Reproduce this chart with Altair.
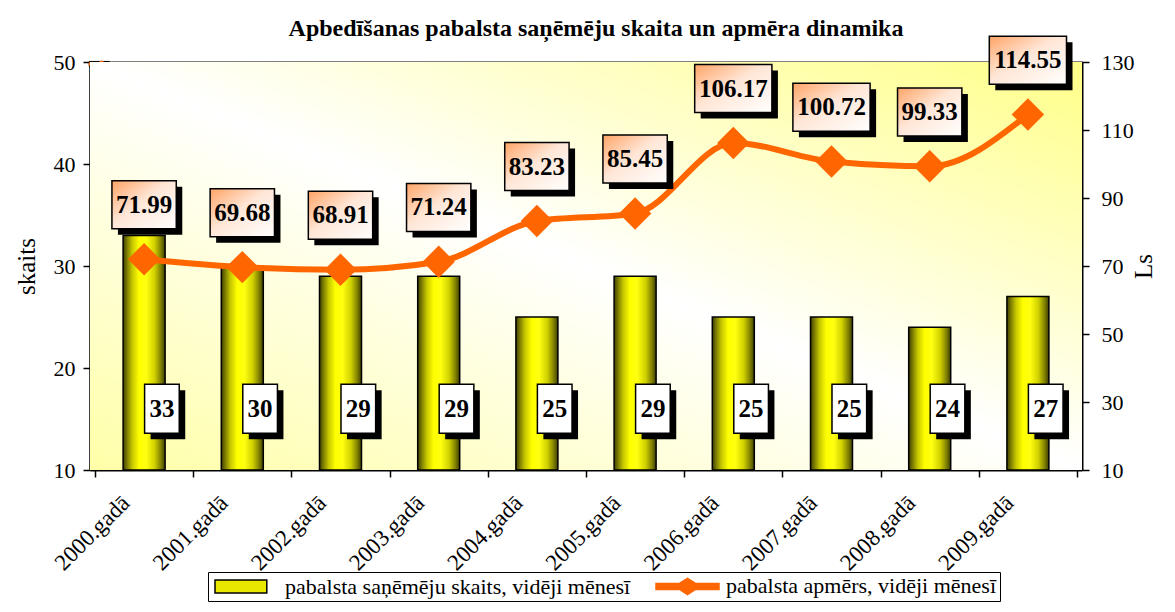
import altair as alt
import pandas as pd

# ---- data ----
years = ["2000.gadā", "2001.gadā", "2002.gadā", "2003.gadā", "2004.gadā",
         "2005.gadā", "2006.gadā", "2007.gadā", "2008.gadā", "2009.gadā"]
counts = [33, 30, 29, 29, 25, 29, 25, 25, 24, 27]
amounts = [71.99, 69.68, 68.91, 71.24, 83.23, 85.45, 106.17, 100.72, 99.33, 114.55]
series = ["pabalsta  saņēmēju skaits, vidēji mēnesī", "pabalsta apmērs, vidēji mēnesī"]
title_text = "Apbedīšanas pabalsta saņēmēju skaita un apmēra dinamika"

# ---- layout ----
W, H = 992, 408
LDOM = [10, 50]
RDOM = [10, 130]
XDOM = [-0.5, len(years) - 0.5]
PXX = W / (XDOM[1] - XDOM[0])
PYL = H / (LDOM[1] - LDOM[0])
PYR = H / (RDOM[1] - RDOM[0])
FONT = "Liberation Serif, Times New Roman, Times, DejaVu Serif, serif"
ORANGE = "#FF6600"

n = len(years)
df = pd.DataFrame({"idx": list(range(n)), "year": years, "count": counts, "amount": amounts})
df["base"] = LDOM[0]
# bar labels (white boxes)
df["blab"] = df["count"].astype(str)
df["bx"] = df["idx"] + 18 / PXX
df["bx1"] = df["bx"] - 17.5 / PXX
df["bx2"] = df["bx"] + 17.5 / PXX
df["by"] = 16.0
df["by1"] = df["by"] - 24.5 / PYL
df["by2"] = df["by"] + 24.5 / PYL
# line labels (orange-white boxes)
df["llab"] = [f"{v:.2f}" for v in amounts]
df["lw"] = df["llab"].str.len() * 13.0
df["lx"] = df["idx"].astype(float)
df["lx1"] = df["lx"] - df["lw"] / 2 / PXX
df["lx2"] = df["lx"] + df["lw"] / 2 / PXX
df["ly"] = df["amount"] + 16
df["ly1"] = df["ly"] - 24 / PYR
df["ly2"] = df["ly"] + 24 / PYR

label_arr = "[" + ",".join("'" + y + "'" for y in years) + "]"
x_axis = alt.Axis(
    values=[i - 0.5 for i in range(n + 1)],
    labelExpr=f"datum.value < 0 ? '' : {label_arr}[floor(datum.value)]",
    labelAngle=-45, labelAlign="right", labelBaseline="middle",
    labelOffset=-PXX / 2 - 18, labelPadding=22,
    labelFont=FONT, labelFontSize=23, labelColor="black",
    domainColor="black", domainWidth=2, tickColor="black", tickWidth=1.5, tickSize=7,
    grid=False, title=None,
)
xs = alt.Scale(domain=XDOM, nice=False, zero=False)


def X(field):
    return alt.X(f"{field}:Q", scale=xs, axis=x_axis)


ls = alt.Scale(domain=LDOM, nice=False, zero=False)
rs = alt.Scale(domain=RDOM, nice=False, zero=False)

left_axis = alt.Axis(
    orient="left", values=[10, 20, 30, 40, 50], title="skaits",
    labelFont=FONT, labelFontSize=22, labelColor="black", labelPadding=8,
    titleFont=FONT, titleFontSize=25, titleFontWeight="normal", titleColor="black", titlePadding=14,
    domainColor="black", domainWidth=2, tickColor="black", tickWidth=1.5, tickSize=7, grid=False,
)
right_axis = alt.Axis(
    orient="right", values=[10, 30, 50, 70, 90, 110, 130], title="Ls", titleAngle=270,
    labelFont=FONT, labelFontSize=22, labelColor="black", labelPadding=12,
    titleFont=FONT, titleFontSize=25, titleFontWeight="normal", titleColor="black", titlePadding=22,
    domainColor="black", domainWidth=2, tickColor="black", tickWidth=1.5, tickSize=7, grid=False,
)


def YL(field):
    return alt.Y(f"{field}:Q", scale=ls, axis=left_axis)


def YR(field):
    return alt.Y(f"{field}:Q", scale=rs, axis=right_axis)


base = alt.Chart(df)

# legend helper (hidden under the background)
leg_df = pd.DataFrame({"s": series})
legend_layer = alt.Chart(leg_df).mark_point(filled=True, opacity=1, strokeWidth=1).encode(
    x=alt.value(2), y=alt.value(2),
    fill=alt.Fill("s:N", scale=alt.Scale(domain=series, range=["#E8E800", ORANGE]),
                  legend=alt.Legend(title=None)),
    stroke=alt.Stroke("s:N", scale=alt.Scale(domain=series, range=["#000000", ORANGE]),
                      legend=alt.Legend(title=None)),
    shape=alt.Shape("s:N", scale=alt.Scale(domain=series, range=[
        "M-1,-0.93H6.4V0.93H-1Z",
        "M-1,-0.43H2.35L3.5,-1.15L4.65,-0.43H8V0.43H4.65L3.5,1.15L2.35,0.43H-1Z",
    ]), legend=alt.Legend(title=None)),
)

bg = alt.Chart(leg_df.head(1)).mark_rect(
    color=alt.Gradient(
        gradient="linear", x1=1, y1=0, x2=0, y2=1,
        stops=[alt.GradientStop(color="#FFFF88", offset=0),
               alt.GradientStop(color="#FFFFFF", offset=0.5),
               alt.GradientStop(color="#FFFFA8", offset=1)],
    )
).encode(x=alt.value(0), x2=alt.value(W), y=alt.value(0), y2=alt.value(H))

bars = base.mark_bar(
    size=42, stroke="black", strokeWidth=1.5,
    color=alt.Gradient(
        gradient="linear", x1=0, y1=0, x2=1, y2=0,
        stops=[alt.GradientStop(color="#3d3d00", offset=0),
               alt.GradientStop(color="#808000", offset=0.1),
               alt.GradientStop(color="#C8C800", offset=0.22),
               alt.GradientStop(color="#FFFF00", offset=0.38),
               alt.GradientStop(color="#FFFF10", offset=0.55),
               alt.GradientStop(color="#D0D000", offset=0.75),
               alt.GradientStop(color="#808000", offset=0.9),
               alt.GradientStop(color="#3d3d00", offset=1)],
    ),
).encode(x=X("idx"), y=YL("count"), y2="base:Q")

bshadow = base.mark_rect(color="black", xOffset=6, x2Offset=6, yOffset=6, y2Offset=6).encode(
    x=X("bx1"), x2="bx2:Q", y=YL("by1"), y2="by2:Q")
bbox = base.mark_rect(fill="white", stroke="black", strokeWidth=1.5).encode(
    x=X("bx1"), x2="bx2:Q", y=YL("by1"), y2="by2:Q")
btext = base.mark_text(font=FONT, fontSize=25, fontWeight="bold", color="black", baseline="middle").encode(
    x=X("bx"), y=YL("by"), text="blab:N")

layer_a = alt.layer(legend_layer, bg, bars, bshadow, bbox, btext)

line = base.mark_line(color=ORANGE, strokeWidth=6, interpolate="monotone").encode(
    x=X("idx"), y=YR("amount"))
pts = base.mark_point(shape="diamond", filled=True, size=1050, color=ORANGE, opacity=1).encode(
    x=X("idx"), y=YR("amount"))
lshadow = base.mark_rect(color="black", xOffset=6, x2Offset=6, yOffset=6, y2Offset=6).encode(
    x=X("lx1"), x2="lx2:Q", y=YR("ly1"), y2="ly2:Q")
lbox = base.mark_rect(
    stroke="black", strokeWidth=1.5,
    fill=alt.Gradient(
        gradient="linear", x1=0, y1=0, x2=1, y2=1,
        stops=[alt.GradientStop(color="#FFA466", offset=0),
               alt.GradientStop(color="#FFE6D6", offset=0.45),
               alt.GradientStop(color="#FFFFFF", offset=1)],
    ),
).encode(x=X("lx1"), x2="lx2:Q", y=YR("ly1"), y2="ly2:Q")
ltext = base.mark_text(font=FONT, fontSize=25, fontWeight="bold", color="black", baseline="middle").encode(
    x=X("lx"), y=YR("ly"), text="llab:N")

layer_b = alt.layer(line, pts, lshadow, lbox, ltext)

chart = alt.layer(layer_a, layer_b).resolve_scale(y="independent").properties(
    width=W, height=H,
    autosize=alt.AutoSizeParams(type="none"),
    padding={"left": 82, "top": 54, "right": 85, "bottom": 134},
    title=alt.TitleParams(title_text, font=FONT, fontSize=24, fontWeight="bold", color="black",
                          anchor="middle", dx=10, offset=-6),
).configure_view(stroke="#808080", strokeWidth=2).configure_legend(
    orient="none", legendX=118, legendY=510, direction="horizontal",
    strokeColor="black", fillColor="white", padding=3,
    labelFont=FONT, labelFontSize=22, labelColor="black", labelLimit=500,
    symbolSize=196, columnPadding=16, labelOffset=52,
)

chart.save("out.html", embed_options={"renderer": "svg", "actions": False})
